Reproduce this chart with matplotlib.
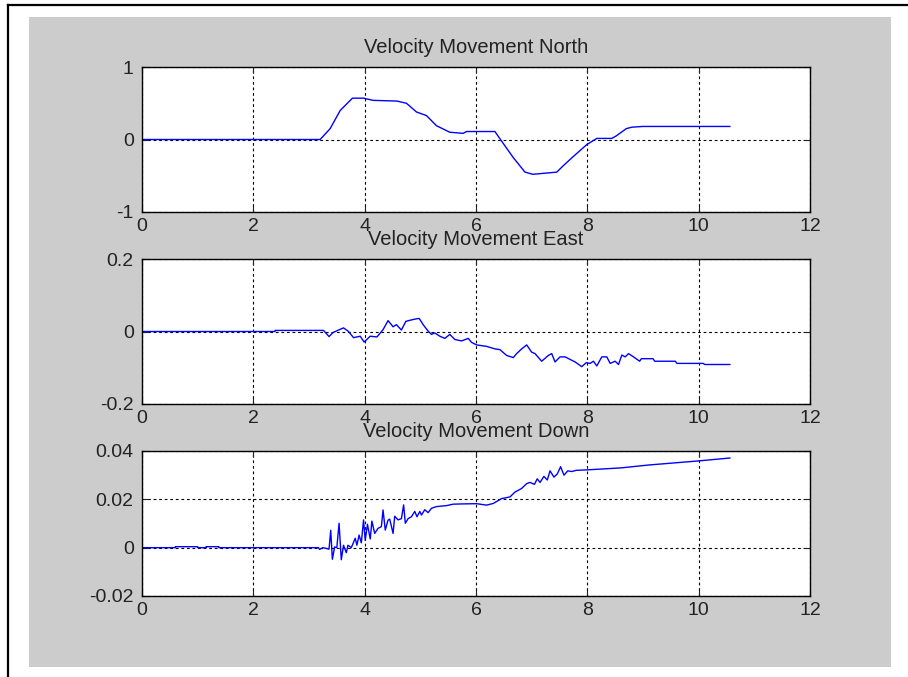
import matplotlib.pyplot as plt
from matplotlib.patches import Rectangle
from matplotlib.lines import Line2D

plt.rcParams['font.family'] = ['Liberation Sans', 'DejaVu Sans']
plt.rcParams['axes.unicode_minus'] = False

# velocity north
t_north = [0, 3.2, 3.38, 3.56, 3.78, 3.98, 4.15, 4.58, 4.75, 4.93,
           5.11, 5.29, 5.53, 5.77, 5.83, 6.34, 6.43, 6.55, 6.67, 6.88,
           7.02, 7.45, 7.57, 7.74, 7.99, 8.17, 8.44, 8.52, 8.7, 8.8,
           9.0, 10.56]
v_north = [0, 0, 0.15, 0.40, 0.57, 0.57, 0.54, 0.53, 0.50, 0.38,
           0.33, 0.19, 0.10, 0.085, 0.11, 0.11, 0.01, -0.12, -0.25, -0.45,
           -0.48, -0.45, -0.36, -0.24, -0.07, 0.015, 0.015, 0.05, 0.15, 0.17,
           0.18, 0.18]

# velocity east
t_east = [0, 2.39, 2.39, 3.26, 3.36, 3.43, 3.53, 3.62, 3.71, 3.80,
          3.92, 3.99, 4.10, 4.22, 4.33, 4.42, 4.48, 4.51, 4.57, 4.66,
          4.74, 4.84, 4.93, 4.98, 5.05, 5.14, 5.20, 5.26, 5.35, 5.44,
          5.53, 5.62, 5.74, 5.86, 5.92, 6.01, 6.19, 6.34, 6.43, 6.55,
          6.67, 6.73, 6.82, 6.91, 7.00, 7.06, 7.18, 7.30, 7.36, 7.42,
          7.51, 7.60, 7.69, 7.78, 7.90, 7.98, 8.05, 8.11, 8.17, 8.26,
          8.35, 8.41, 8.50, 8.56, 8.62, 8.68, 8.74, 8.83, 8.94, 8.97,
          9.18, 9.21, 9.58, 9.61, 10.08, 10.11, 10.56]
v_east = [0, 0, 0.003, 0.003, -0.014, -0.003, 0.004, 0.01, 0, -0.017,
          -0.013, -0.029, -0.013, -0.015, 0.005, 0.03, 0.019, 0.013, 0.019, 0.004,
          0.028, 0.032, 0.035, 0.036, 0.019, 0.001, -0.008, -0.004, -0.013, -0.019,
          -0.008, -0.022, -0.026, -0.019, -0.030, -0.037, -0.041, -0.048, -0.050, -0.066,
          -0.072, -0.061, -0.048, -0.037, -0.057, -0.061, -0.082, -0.066, -0.061, -0.084,
          -0.070, -0.070, -0.077, -0.084, -0.097, -0.086, -0.088, -0.082, -0.095, -0.070,
          -0.070, -0.088, -0.082, -0.091, -0.065, -0.070, -0.061, -0.070, -0.082, -0.075,
          -0.075, -0.082, -0.082, -0.088, -0.088, -0.091, -0.091]

# velocity down
t_down = [0, 0.6, 0.6, 1.0, 1.0, 1.15, 1.15, 1.38, 1.38, 3.17,
          3.19, 3.25, 3.36, 3.39, 3.42, 3.46, 3.50, 3.54, 3.58, 3.62,
          3.67, 3.70, 3.76, 3.83, 3.86, 3.90, 3.94, 3.98, 4.01, 4.05,
          4.10, 4.13, 4.18, 4.24, 4.30, 4.33, 4.37, 4.42, 4.45, 4.51,
          4.54, 4.60, 4.66, 4.70, 4.73, 4.78, 4.84, 4.90, 4.94, 4.99,
          5.02, 5.08, 5.14, 5.20, 5.29, 5.38, 5.47, 5.59, 5.75, 6.01,
          6.19, 6.31, 6.46, 6.61, 6.70, 6.82, 6.91, 6.97, 7.05, 7.10,
          7.15, 7.22, 7.28, 7.33, 7.40, 7.46, 7.52, 7.58, 7.65, 7.72,
          7.80, 8.0, 8.6, 9.1, 10.0, 10.56]
v_down = [0, 0, 0.0004, 0.0004, 0, 0, 0.0004, 0.0004, 0, 0,
          -0.0007, 0, -0.0006, 0.0072, -0.0048, 0.0003, 0.0, 0.0101, -0.005, 0.001,
          -0.0021, 0.001, 0.0, 0.0039, 0.001, 0.0052, 0.002, 0.0115, 0.003, 0.0097,
          0.0036, 0.011, 0.0059, 0.008, 0.0087, 0.0156, 0.0073, 0.0114, 0.0118, 0.0059,
          0.013, 0.0115, 0.012, 0.0177, 0.0101, 0.012, 0.0128, 0.015, 0.0128, 0.015,
          0.0135, 0.0157, 0.0145, 0.0163, 0.0170, 0.0172, 0.0174, 0.018, 0.0181, 0.0182,
          0.0176, 0.0183, 0.0203, 0.021, 0.023, 0.0245, 0.0265, 0.027, 0.0262, 0.0285,
          0.027, 0.0295, 0.028, 0.0318, 0.0292, 0.0305, 0.0335, 0.030, 0.0318, 0.0315,
          0.032, 0.0322, 0.033, 0.0342, 0.0359, 0.0371]

x_ticks = [0, 2, 4, 6, 8, 10, 12]
panels = [
    ('Velocity Movement North', t_north, v_north, (-1, 1), [-1, 0, 1], ['-1', '0', '1']),
    ('Velocity Movement East', t_east, v_east, (-0.2, 0.2), [-0.2, 0, 0.2], ['-0.2', '0', '0.2']),
    ('Velocity Movement Down', t_down, v_down, (-0.02, 0.04), [-0.02, 0, 0.02, 0.04],
     ['-0.02', '0', '0.02', '0.04']),
]

W, H = 908, 677
fig = plt.figure(figsize=(W / 100, H / 100), dpi=100, facecolor='white')

# grey frame and page edges
fig.patches.append(Rectangle((29 / W, 1 - 667 / H), (891 - 29) / W, (667 - 17) / H,
                             transform=fig.transFigure, facecolor='#cccccc',
                             edgecolor='none', zorder=-5))
fig.lines.append(Line2D([8 / W, 1], [1 - 5 / H, 1 - 5 / H], transform=fig.transFigure,
                        color='black', lw=1.6))
fig.lines.append(Line2D([8 / W, 8 / W], [0, 1 - 5 / H], transform=fig.transFigure,
                        color='black', lw=1.6))

tops = [67, 259, 451]
ax_h = 145
for (title, tt, vv, ylim, yt, ylab), top in zip(panels, tops):
    ax = fig.add_axes([142 / W, 1 - (top + ax_h) / H, (810 - 142) / W, ax_h / H])
    ax.plot(tt, vv, color='#0000ff', lw=1.0)
    ax.set_xlim(0, 12)
    ax.set_ylim(*ylim)
    ax.set_xticks(x_ticks)
    ax.set_yticks(yt)
    ax.set_yticklabels(ylab)
    ax.grid(True, color='black', linestyle=(0, (2.5, 2.5)), lw=0.8)
    ax.tick_params(direction='in', length=4, top=True, right=True, labelsize=14,
                   colors='#222222')
    ax.tick_params(axis='x', pad=4)
    ax.tick_params(axis='y', pad=6)
    for s in ax.spines.values():
        s.set_linewidth(1.0)
    ax.set_title(title, fontsize=14.5, pad=10, color='#222222')

fig.savefig('out.png', dpi=100, facecolor='white')
